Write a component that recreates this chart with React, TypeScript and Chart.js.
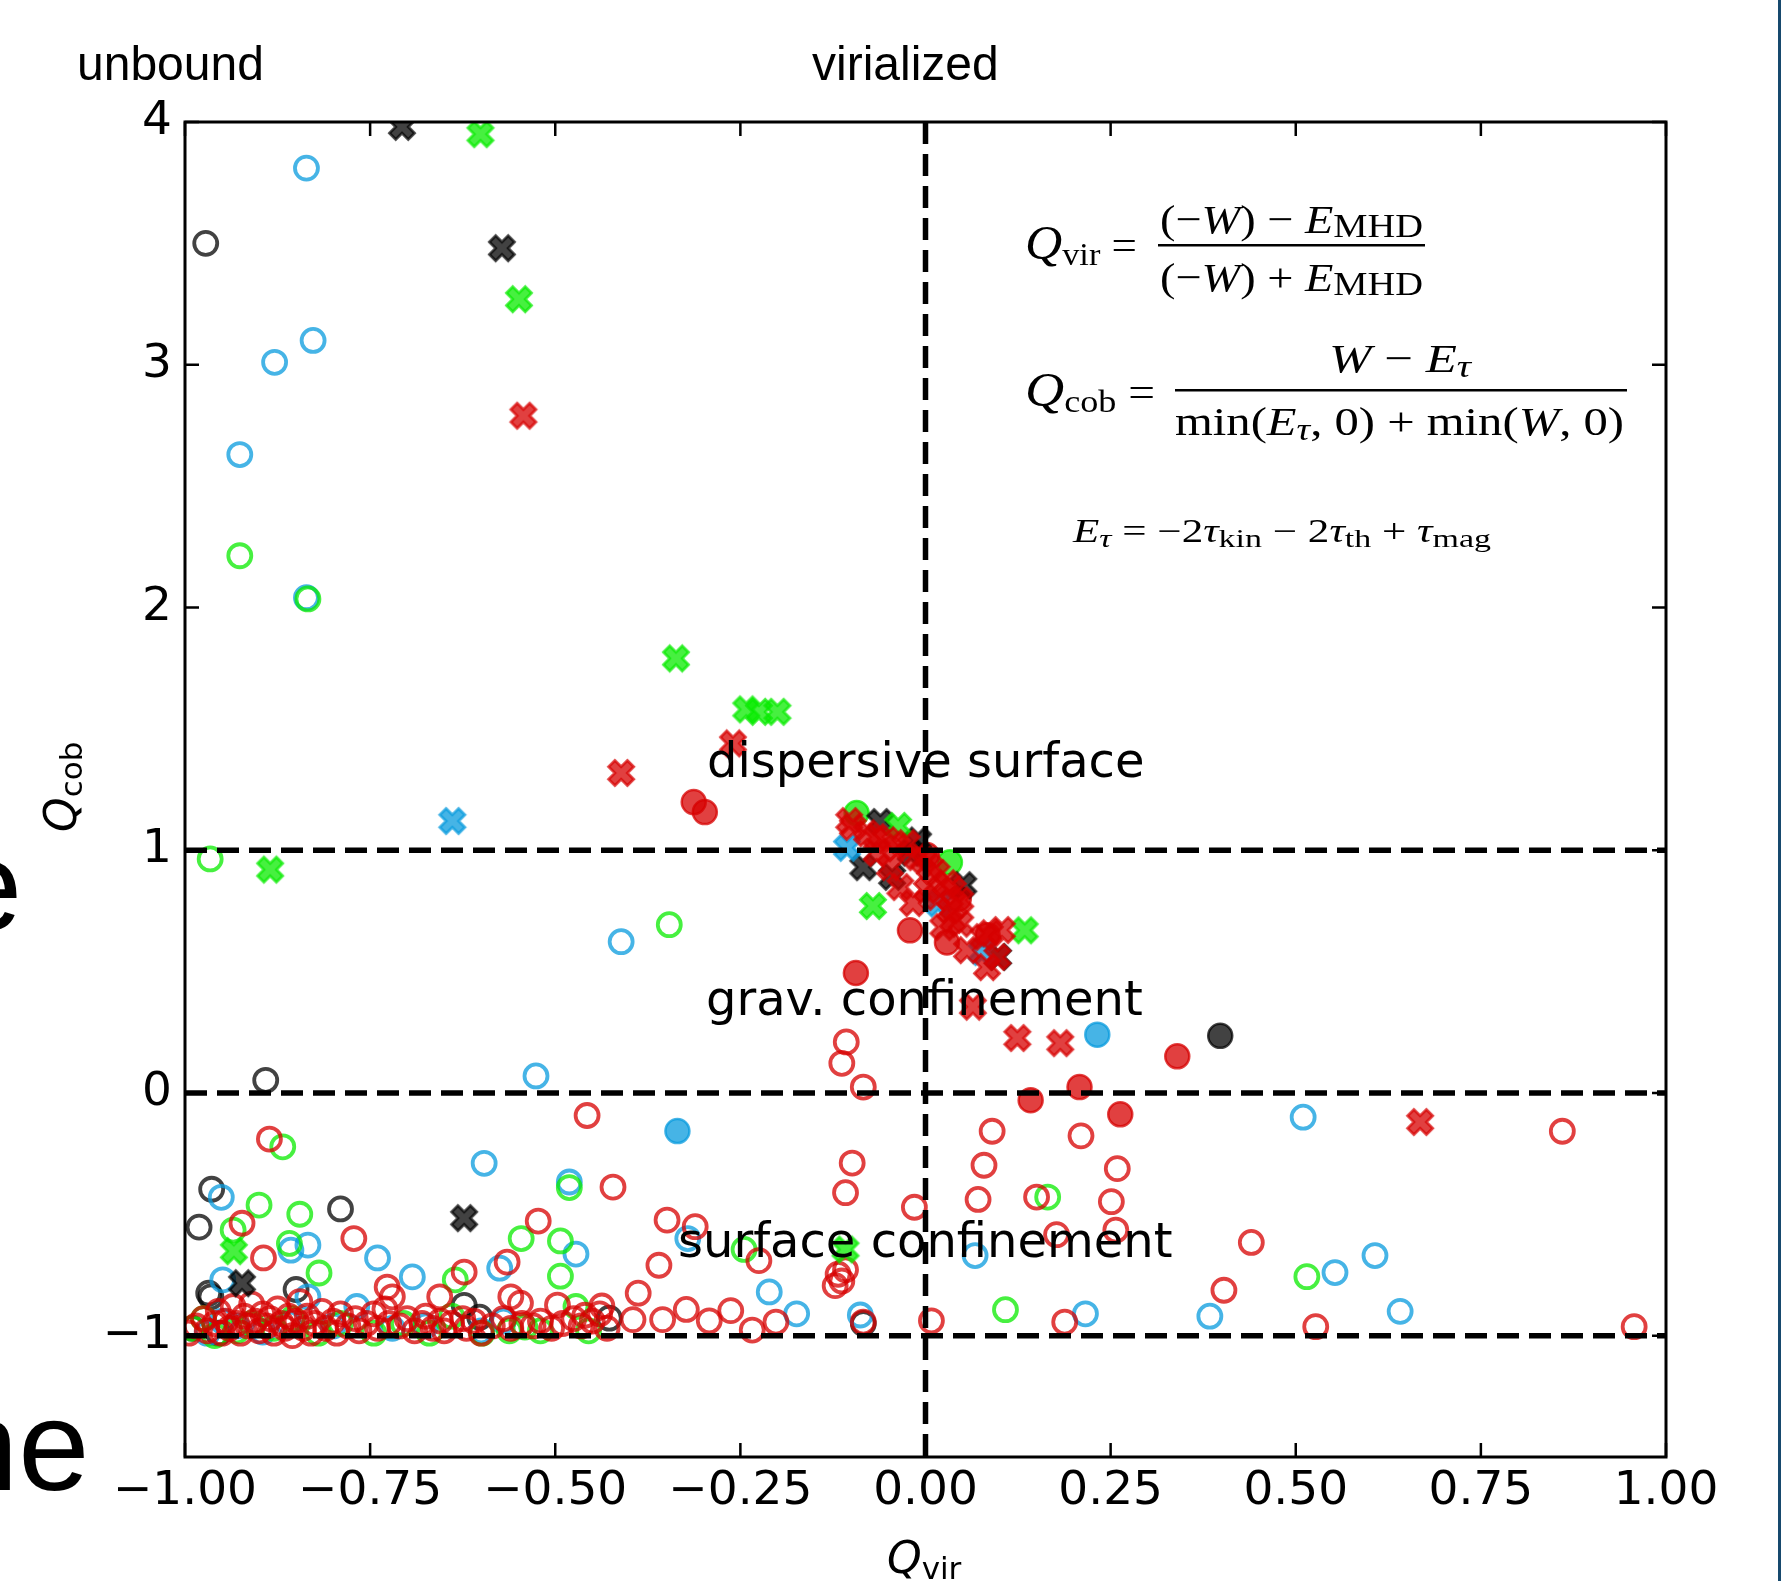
import React, { useEffect, useRef } from "react";
import { Chart, registerables } from "chart.js";

Chart.register(...registerables);

// ---------- axes ----------
const X_TICKS = [-1, -0.75, -0.5, -0.25, 0, 0.25, 0.5, 0.75, 1];
const Y_TICKS = [-1, 0, 1, 2, 3, 4];
const REF_X = [0];
const REF_Y = [1, 0, -1];

// ---------- data ([Q_vir, Q_cob]) ----------
const blackOpen: number[][] = [
  [-0.972, 3.5], [-0.891, 0.052], [-0.964, -0.397], [-0.981, -0.553], [-0.79, -0.478],
  [-0.968, -0.825], [-0.85, -0.81], [-0.623, -0.875], [-0.602, -0.924], [-0.427, -0.928],
  [-0.084, -0.95], [-0.99, -0.97], [-0.955, -0.99], [-0.965, -0.84],
];
const blueOpen: number[][] = [
  [-0.836, 3.81], [-0.827, 3.1], [-0.879, 3.01], [-0.926, 2.63], [-0.836, 2.04],
  [-0.411, 0.623], [-0.526, 0.07], [-0.596, -0.29], [-0.481, -0.367], [-0.951, -0.43],
  [-0.857, -0.648], [-0.834, -0.627], [-0.74, -0.68], [-0.693, -0.758], [-0.575, -0.722],
  [-0.472, -0.664], [-0.321, -0.6], [-0.211, -0.82], [-0.174, -0.91], [-0.088, -0.915],
  [0.067, -0.67], [0.216, -0.91], [0.384, -0.92], [0.51, -0.1], [0.553, -0.74],
  [0.607, -0.67], [0.641, -0.9], [-0.949, -0.77], [-0.834, -0.84], [-0.768, -0.88],
  [-0.97, -0.99], [-0.95, -0.94], [-0.93, -0.96], [-0.895, -0.985], [-0.86, -0.95],
  [-0.8, -0.96], [-0.72, -0.97], [-0.675, -0.96], [-0.6, -0.98], [-0.57, -0.94],
];
const greenOpen: number[][] = [
  [-0.926, 2.213], [-0.834, 2.035], [-0.966, 0.964], [-0.346, 0.693], [-0.868, -0.222],
  [-0.9, -0.462], [-0.935, -0.565], [-0.845, -0.5], [-0.859, -0.62], [-0.819, -0.742],
  [-0.546, -0.6], [-0.493, -0.61], [-0.493, -0.755], [-0.635, -0.77], [-0.481, -0.39],
  [0.165, -0.429], [0.108, -0.893], [0.515, -0.757], [-0.245, -0.645], [-0.562, -0.98],
  [-0.541, -0.965], [-0.599, -0.99], [-0.472, -0.88], [-0.99, -0.97], [-0.975, -0.93],
  [-0.96, -1.0], [-0.93, -0.98], [-0.91, -0.95], [-0.88, -0.97], [-0.855, -0.93],
  [-0.82, -0.99], [-0.79, -0.95], [-0.745, -0.99], [-0.705, -0.95], [-0.67, -0.99],
  [-0.64, -0.92], [-0.52, -0.98], [-0.455, -0.98],
];
const redOpen: number[][] = [
  [-0.886, -0.19], [-0.923, -0.537], [-0.894, -0.68], [-0.772, -0.6], [-0.727, -0.8],
  [-0.656, -0.84], [-0.623, -0.738], [-0.565, -0.697], [-0.56, -0.84], [-0.547, -0.866],
  [-0.523, -0.528], [-0.457, -0.093], [-0.422, -0.388], [-0.349, -0.524], [-0.36, -0.71],
  [-0.388, -0.825], [-0.311, -0.551], [-0.225, -0.691], [-0.323, -0.892], [-0.292, -0.939],
  [-0.355, -0.934], [-0.395, -0.934], [-0.437, -0.878], [-0.46, -0.916], [-0.497, -0.874],
  [-0.263, -0.897], [-0.202, -0.944], [-0.234, -0.977], [-0.113, -0.775], [-0.118, -0.747],
  [-0.108, -0.729], [-0.122, -0.794], [-0.108, -0.411], [-0.099, -0.289], [-0.084, 0.024],
  [-0.113, 0.122], [-0.107, 0.21], [-0.084, -0.944], [-0.015, -0.471], [0.008, -0.939],
  [0.09, -0.158], [0.079, -0.298], [0.071, -0.439], [0.15, -0.429], [0.177, -0.584],
  [0.21, -0.177], [0.259, -0.312], [0.251, -0.448], [0.257, -0.565], [0.188, -0.944],
  [0.403, -0.813], [0.44, -0.616], [0.527, -0.963], [0.86, -0.158], [0.957, -0.963],
  [-0.995, -0.99], [-0.985, -0.96], [-0.975, -0.93], [-0.97, -0.98], [-0.96, -0.95],
  [-0.955, -0.9], [-0.95, -0.99], [-0.945, -0.94], [-0.94, -0.97], [-0.935, -0.88],
  [-0.93, -0.95], [-0.925, -0.99], [-0.92, -0.92], [-0.915, -0.96], [-0.91, -0.87],
  [-0.905, -0.94], [-0.9, -0.98], [-0.895, -0.91], [-0.89, -0.96], [-0.885, -0.93],
  [-0.88, -0.99], [-0.875, -0.89], [-0.87, -0.95], [-0.865, -0.97], [-0.86, -0.92],
  [-0.855, -1.0], [-0.85, -0.94], [-0.845, -0.86], [-0.84, -0.97], [-0.835, -0.92],
  [-0.83, -0.99], [-0.825, -0.95], [-0.815, -0.9], [-0.81, -0.97], [-0.8, -0.94],
  [-0.795, -0.99], [-0.79, -0.91], [-0.78, -0.96], [-0.77, -0.93], [-0.765, -0.98],
  [-0.755, -0.95], [-0.745, -0.91], [-0.74, -0.97], [-0.73, -0.89], [-0.725, -0.95],
  [-0.72, -0.84], [-0.71, -0.96], [-0.7, -0.93], [-0.69, -0.98], [-0.68, -0.95],
  [-0.675, -0.92], [-0.665, -0.97], [-0.655, -0.94], [-0.65, -0.98], [-0.64, -0.95],
  [-0.625, -0.93], [-0.62, -0.97], [-0.61, -0.94], [-0.6, -0.99], [-0.585, -0.96],
  [-0.57, -0.93], [-0.56, -0.97], [-0.545, -0.95], [-0.53, -0.96], [-0.52, -0.94],
  [-0.505, -0.97], [-0.49, -0.95], [-0.475, -0.93], [-0.465, -0.96], [-0.45, -0.94],
  [-0.44, -0.91], [-0.43, -0.97],
];
const blueFilled: number[][] = [[0.232, 0.24], [-0.335, -0.157]];
const blackFilled: number[][] = [[0.398, 0.235]];
const greenFilled: number[][] = [[-0.093, 1.153], [0.033, 0.95]];
const redFilled: number[][] = [
  [-0.313, 1.198], [-0.298, 1.157], [-0.021, 0.67], [0.029, 0.62], [0.084, 0.65],
  [-0.094, 0.494], [0.208, 0.024], [0.142, -0.03], [0.34, 0.151], [0.263, -0.088],
  [0.002, 0.98], [0.045, 0.8],
];
const blackX: number[][] = [
  [-0.707, 3.98], [-0.572, 3.48], [-0.623, -0.516], [-0.923, -0.784], [-0.061, 1.116],
  [-0.01, 1.04], [-0.084, 0.93], [-0.045, 0.89], [0.051, 0.856], [0.098, 0.56], [-0.02, 0.99],
];
const blueX: number[][] = [[-0.639, 1.12], [-0.106, 1.01], [0.017, 0.78], [0.076, 0.58]];
const greenX: number[][] = [
  [-0.601, 3.95], [-0.549, 3.27], [-0.337, 1.79], [-0.242, 1.58], [-0.225, 1.57],
  [-0.2, 1.57], [-0.885, 0.92], [-0.037, 1.1], [-0.071, 0.77], [0.134, 0.67],
  [-0.934, -0.652], [-0.108, -0.645],
];
const redX: number[][] = [
  [-0.543, 2.79], [-0.26, 1.44], [-0.411, 1.318], [-0.103, 1.12], [0.064, 0.355],
  [0.124, 0.226], [0.182, 0.205], [0.668, -0.12], [-0.098, 1.095], [-0.079, 1.07],
  [-0.066, 1.054], [-0.052, 1.041], [-0.039, 1.013], [-0.025, 1.029], [-0.066, 0.988],
  [-0.048, 0.93], [-0.034, 0.848], [-0.012, 0.971], [-0.003, 0.959], [0.006, 0.93],
  [0.015, 0.906], [0.002, 0.836], [0.015, 0.807], [-0.017, 0.782], [0.029, 0.864],
  [0.037, 0.836], [0.047, 0.794], [0.033, 0.753], [0.037, 0.712], [0.024, 0.683],
  [0.047, 0.697], [0.056, 0.588], [0.078, 0.642], [0.087, 0.658], [0.103, 0.671],
  [0.083, 0.518], [0.097, 0.56],
];

// ---------- styles ----------
const RED = "rgba(215,0,0,0.75)";
const BLUE = "rgba(8,155,221,0.75)";
const GREEN = "rgba(10,235,0,0.75)";
const BLACK = "rgba(0,0,0,0.74)";

function makeX(color: string): HTMLCanvasElement {
  const size = 25;
  const S = 34;
  const c = document.createElement("canvas");
  c.width = S;
  c.height = S;
  const g = c.getContext("2d")!;
  const pts = [
    [-0.25, -0.5], [0, -0.25], [0.25, -0.5], [0.5, -0.25], [0.25, 0], [0.5, 0.25],
    [0.25, 0.5], [0, 0.25], [-0.25, 0.5], [-0.5, 0.25], [-0.25, 0], [-0.5, -0.25],
  ];
  g.translate(S / 2, S / 2);
  g.beginPath();
  pts.forEach(([x, y], i) => (i ? g.lineTo(x * size, y * size) : g.moveTo(x * size, y * size)));
  g.closePath();
  g.fillStyle = color;
  g.fill();
  g.lineWidth = 2.8;
  g.lineJoin = "miter";
  g.strokeStyle = color;
  g.stroke();
  return c;
}

const pts = (a: number[][]) => a.map(([x, y]) => ({ x, y }));

type Run = { t: string; f: string; dy?: number };
const SERIF = "'Liberation Serif'";
const it = (s: number) => `italic ${s}px ${SERIF}`;
const rm = (s: number) => `${s}px ${SERIF}`;

function drawRuns(ctx: CanvasRenderingContext2D, runs: Run[], x0: number, x1: number | null, base: number) {
  let w = 0;
  for (const r of runs) {
    ctx.font = r.f;
    w += ctx.measureText(r.t).width;
  }
  const sx = x1 === null ? 1 : (x1 - x0) / w;
  ctx.save();
  ctx.translate(x0, base);
  ctx.scale(sx, 1);
  let x = 0;
  ctx.textAlign = "left";
  ctx.textBaseline = "alphabetic";
  for (const r of runs) {
    ctx.font = r.f;
    ctx.fillText(r.t, x, r.dy || 0);
    x += ctx.measureText(r.t).width;
  }
  ctx.restore();
}

const overlay = {
  id: "overlay",
  afterDraw(chart: any) {
    const ctx: CanvasRenderingContext2D = chart.ctx;
    const a = chart.chartArea;
    const xs = chart.scales.x;
    const ys = chart.scales.y;
    ctx.save();
    // reference dashed lines
    ctx.beginPath();
    ctx.rect(a.left, a.top, a.right - a.left, a.bottom - a.top);
    ctx.clip();
    ctx.strokeStyle = "#000";
    ctx.lineWidth = 5.5;
    ctx.setLineDash([22, 10]);
    for (const v of REF_Y) {
      const p = ys.getPixelForValue(v);
      ctx.beginPath();
      ctx.moveTo(a.left, p);
      ctx.lineTo(a.right, p);
      ctx.stroke();
    }
    for (const v of REF_X) {
      const p = xs.getPixelForValue(v);
      ctx.beginPath();
      ctx.moveTo(p, a.top);
      ctx.lineTo(p, a.bottom);
      ctx.stroke();
    }
    ctx.restore();

    ctx.save();
    ctx.setLineDash([]);
    ctx.strokeStyle = "#000";
    // ticks (inward, all four sides)
    ctx.lineWidth = 2.5;
    const TL = 14;
    for (const t of xs.ticks) {
      const p = xs.getPixelForValue(t.value);
      ctx.beginPath();
      ctx.moveTo(p, a.bottom);
      ctx.lineTo(p, a.bottom - TL);
      ctx.moveTo(p, a.top);
      ctx.lineTo(p, a.top + TL);
      ctx.stroke();
    }
    for (const t of ys.ticks) {
      const p = ys.getPixelForValue(t.value);
      ctx.beginPath();
      ctx.moveTo(a.left, p);
      ctx.lineTo(a.left + TL, p);
      ctx.moveTo(a.right, p);
      ctx.lineTo(a.right - TL, p);
      ctx.stroke();
    }
    // frame
    ctx.lineWidth = 3;
    ctx.strokeRect(a.left, a.top, a.right - a.left, a.bottom - a.top);

    ctx.fillStyle = "#000";
    ctx.textBaseline = "alphabetic";
    ctx.textAlign = "left";
    // header labels
    ctx.font = "48px 'Liberation Sans'";
    ctx.fillText("unbound", 77, 80);
    ctx.fillText("virialized", 812, 80);
    // region annotations
    ctx.font = "48px 'DejaVu Sans'";
    ctx.fillText("dispersive surface", 707, 777);
    ctx.fillText("grav. confinement", 706, 1015);
    ctx.fillText("surface confinement", 678, 1257);

    // formulas
    drawRuns(ctx, [{ t: "Q", f: it(48) }, { t: "vir", f: rm(32), dy: 6 }, { t: " =", f: rm(42) }], 1025, 1137, 259);
    drawRuns(ctx, [
      { t: "(−", f: rm(41) }, { t: "W", f: it(41) }, { t: ") − ", f: rm(41) },
      { t: "E", f: it(41) }, { t: "MHD", f: rm(34), dy: 4 },
    ], 1160, 1423, 233);
    drawRuns(ctx, [
      { t: "(−", f: rm(41) }, { t: "W", f: it(41) }, { t: ") + ", f: rm(41) },
      { t: "E", f: it(41) }, { t: "MHD", f: rm(34), dy: 4 },
    ], 1160, 1423, 291);
    ctx.fillRect(1158, 244, 267, 2.5);

    drawRuns(ctx, [{ t: "Q", f: it(48) }, { t: "cob", f: rm(32), dy: 6 }, { t: " =", f: rm(42) }], 1025, 1155, 406);
    drawRuns(ctx, [
      { t: "W", f: it(41) }, { t: " − ", f: rm(41) }, { t: "E", f: it(41) }, { t: "τ", f: it(32), dy: 5 },
    ], 1329, 1471, 372);
    ctx.fillRect(1175, 389, 452, 2.5);
    drawRuns(ctx, [
      { t: "min(", f: rm(41) }, { t: "E", f: it(41) }, { t: "τ", f: it(32), dy: 5 },
      { t: ", 0) + min(", f: rm(41) }, { t: "W", f: it(41) }, { t: ", 0)", f: rm(41) },
    ], 1175, 1624, 435);

    drawRuns(ctx, [
      { t: "E", f: it(33) }, { t: "τ", f: it(26), dy: 5 }, { t: " = −2", f: rm(33) },
      { t: "τ", f: it(33) }, { t: "kin", f: rm(26), dy: 5 }, { t: " − 2", f: rm(33) },
      { t: "τ", f: it(33) }, { t: "th", f: rm(26), dy: 5 }, { t: " + ", f: rm(33) },
      { t: "τ", f: it(33) }, { t: "mag", f: rm(26), dy: 5 },
    ], 1073, 1491, 542);

    // axis titles
    const Qf = "italic 44px 'DejaVu Sans'";
    const sf = "31px 'DejaVu Sans'";
    drawRuns(ctx, [{ t: "Q", f: Qf }, { t: "vir", f: sf, dy: 6 }], 887, null, 1573);
    ctx.save();
    ctx.translate(76, 832);
    ctx.rotate(-Math.PI / 2);
    drawRuns(ctx, [{ t: "Q", f: Qf }, { t: "cob", f: sf, dy: 6 }], 0, null, 0);
    ctx.restore();

    // cropped neighbouring-figure fragments at the left edge
    ctx.font = "128px 'Liberation Sans'";
    ctx.fillText("e", -49, 930);
    ctx.fillText("ne", -53, 1490);

    // panel separator on the right
    ctx.fillStyle = "#17496d";
    ctx.fillRect(1778, 0, 3, 1581);
    ctx.restore();
  },
};

const fmtX = (v: number) => {
  const s = (Math.abs(v) < 1e-9 ? 0 : v).toFixed(2);
  return s.replace("-", "−");
};
const fmtY = (v: number) => String(Math.abs(v) < 1e-9 ? 0 : v).replace("-", "−");

export default function App() {
  const ref = useRef<HTMLCanvasElement | null>(null);
  useEffect(() => {
    if (!ref.current) return;
    const open = (data: number[][], color: string, order: number) => ({
      data: pts(data), order, pointStyle: "circle" as const, pointRadius: 11.5,
      pointBorderWidth: 3.8, pointBorderColor: color, pointBackgroundColor: "rgba(0,0,0,0)",
      showLine: false, clip: 0,
    });
    const filled = (data: number[][], color: string, order: number) => ({
      data: pts(data), order, pointStyle: "circle" as const, pointRadius: 12,
      pointBorderWidth: 2.5, pointBorderColor: color, pointBackgroundColor: color,
      showLine: false, clip: 0,
    });
    const cross = (data: number[][], color: string, order: number) => ({
      data: pts(data), order, pointStyle: makeX(color), pointRadius: 12,
      showLine: false, clip: 0,
    });
    // drawn bottom -> top : higher order value is drawn first
    const datasets: any[] = [
      open(blackOpen, BLACK, 12),
      open(blueOpen, BLUE, 11),
      open(greenOpen, GREEN, 10),
      open(redOpen, RED, 9),
      filled(blueFilled, BLUE, 8),
      filled(blackFilled, BLACK, 7),
      filled(greenFilled, GREEN, 6),
      filled(redFilled, RED, 5),
      cross(blackX, BLACK, 4),
      cross(blueX, BLUE, 3),
      cross(greenX, GREEN, 2),
      cross(redX, RED, 1),
    ];
    const chart = new Chart(ref.current, {
      type: "scatter",
      data: { datasets },
      options: {
        animation: false,
        responsive: false,
        devicePixelRatio: 1,
        events: [],
        layout: { padding: { top: 122, right: 116, left: 0, bottom: 0 } },
        plugins: { legend: { display: false }, tooltip: { enabled: false } },
        scales: {
          x: {
            type: "linear", min: -1, max: 1, position: "bottom",
            grid: { display: false, drawTicks: false }, border: { display: false },
            afterBuildTicks: (s: any) => { s.ticks = X_TICKS.map((v) => ({ value: v })); },
            afterFit: (s: any) => { s.height = 124; },
            ticks: {
              callback: (v: any) => fmtX(Number(v)), autoSkip: false, maxRotation: 0,
              font: { family: "'DejaVu Sans'", size: 47 }, color: "#000", padding: 7,
            },
          },
          y: {
            type: "linear", min: -1.5, max: 4, position: "left",
            grid: { display: false, drawTicks: false }, border: { display: false },
            afterBuildTicks: (s: any) => { s.ticks = Y_TICKS.map((v) => ({ value: v })); },
            afterFit: (s: any) => { s.width = 185; },
            ticks: {
              callback: (v: any) => fmtY(Number(v)), autoSkip: false,
              font: { family: "'DejaVu Sans'", size: 47 }, color: "#000", padding: 13,
            },
          },
        },
      },
      plugins: [overlay],
    });
    return () => chart.destroy();
  }, []);
  return (
    <div style={{ position: "absolute", left: 0, top: 0, width: 1782, height: 1581, background: "#fff" }}>
      <canvas ref={ref} width={1782} height={1581} style={{ display: "block", width: 1782, height: 1581 }} />
    </div>
  );
}
